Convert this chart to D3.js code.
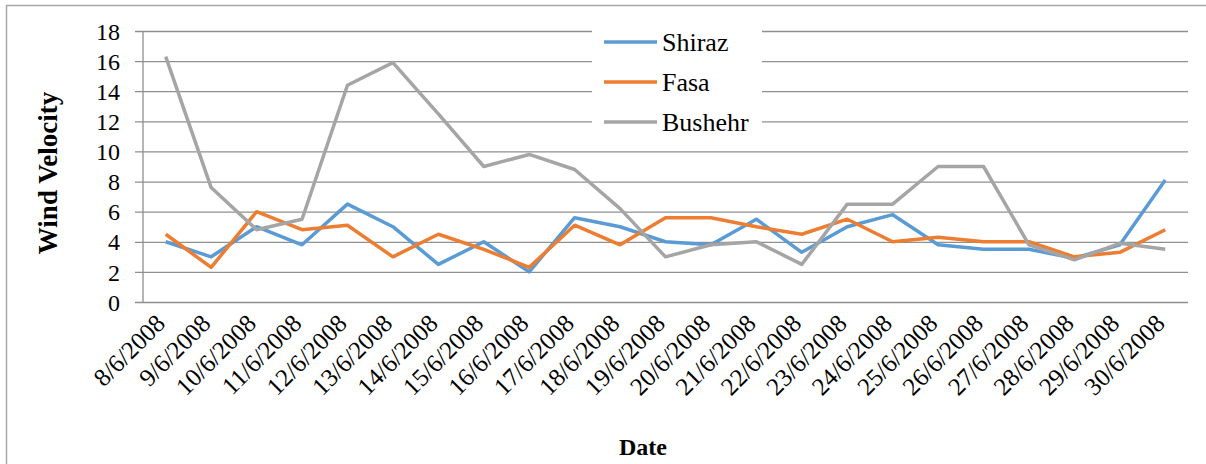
<!DOCTYPE html>
<html>
<head>
<meta charset="utf-8">
<script src="https://cdn.jsdelivr.net/npm/d3@7"></script>
<style>
  body { margin: 0; background: #fff; }
  svg { display: block; }
  svg text { font-family: 'Liberation Serif', 'Times New Roman', serif; fill: #000; }
  .grid line { stroke: #8f8f8f; stroke-width: 1.3; }
  .grid path { display: none; }
  .axis path, .axis line { display: none; }
  .line { fill: none; stroke-width: 3.5; stroke-linejoin: round; }
</style>
</head>
<body>
<script>
const dates = ['8/6/2008', '9/6/2008', '10/6/2008', '11/6/2008', '12/6/2008', '13/6/2008',
  '14/6/2008', '15/6/2008', '16/6/2008', '17/6/2008', '18/6/2008', '19/6/2008', '20/6/2008',
  '21/6/2008', '22/6/2008', '23/6/2008', '24/6/2008', '25/6/2008', '26/6/2008', '27/6/2008',
  '28/6/2008', '29/6/2008', '30/6/2008']
const shiraz = [4.0, 3.0, 5.0, 3.8, 6.5, 5.0, 2.5, 4.0, 2.0, 5.6, 5.0, 4.0, 3.8, 5.5, 3.3, 5.0, 5.8, 3.8, 3.5, 3.5, 2.9, 3.8, 8.1]
const fasa = [4.5, 2.3, 6.0, 4.8, 5.1, 3.0, 4.5, 3.5, 2.3, 5.1, 3.8, 5.6, 5.6, 5.0, 4.5, 5.5, 4.0, 4.3, 4.0, 4.0, 3.0, 3.3, 4.8]
const bushehr = [16.3, 7.6, 4.8, 5.5, 14.4, 15.9, 12.5, 9.0, 9.8, 8.8, 6.2, 3.0, 3.8, 4.0, 2.5, 6.5, 6.5, 9.0, 9.0, 3.8, 2.8, 3.9, 3.5]
const seriesNames = ['Shiraz', 'Fasa', 'Bushehr']
const seriesColors = ['#5b9bd5', '#ed7d31', '#a5a5a5']
const yTicks = [0, 2, 4, 6, 8, 10, 12, 14, 16, 18]

function drawChart() {
  const svgWidth = 1206, svgHeight = 464
  const plot = {left: 143, right: 1188, top: 31, bottom: 302}

  const svg = d3.select('body').append('svg')
    .attr('width', svgWidth)
    .attr('height', svgHeight)

  // chart frame (only top and left edges are visible)
  svg.append('rect')
    .attr('x', 6.5).attr('y', 5.5)
    .attr('width', 1300).attr('height', 600)
    .attr('fill', '#fff')
    .attr('stroke', '#a6a6a6')
    .attr('stroke-width', 1.5)

  const x = d3.scaleBand().domain(dates).range([plot.left, plot.right])
  const y = d3.scaleLinear().domain([0, 18]).range([plot.bottom, plot.top])
  const cx = d => x(d) + x.bandwidth() / 2

  // gridlines
  svg.append('g')
    .attr('class', 'grid')
    .attr('transform', 'translate(' + (plot.left - 8) + ',0)')
    .call(d3.axisLeft(y).tickValues(yTicks)
      .tickSize(-(plot.right - plot.left + 8))
      .tickFormat(''))

  // vertical axis line
  svg.append('line')
    .attr('x1', plot.left).attr('x2', plot.left)
    .attr('y1', y(18)).attr('y2', y(0))
    .attr('stroke', '#8f8f8f').attr('stroke-width', 1.3)

  // y tick labels
  const yAxis = svg.append('g')
    .attr('class', 'axis')
    .attr('transform', 'translate(' + plot.left + ',0)')
    .call(d3.axisLeft(y).tickValues(yTicks).tickSize(0).tickPadding(23))
  yAxis.selectAll('text')
    .style('font-size', '24px')
    .attr('dy', '0.34em')

  // x tick labels
  const xAxis = svg.append('g')
    .attr('class', 'axis')
    .attr('transform', 'translate(0,' + plot.bottom + ')')
    .call(d3.axisBottom(x).tickSize(0).tickPadding(0))
  xAxis.selectAll('text')
    .style('font-size', '25px')
    .attr('text-anchor', 'end')
    .attr('dy', 0)
    .attr('y', 0)
    .attr('transform', 'translate(1,23) rotate(-45)')

  // series lines
  const values = [shiraz, fasa, bushehr]
  const line = d3.line()
    .x((d, i) => cx(dates[i]))
    .y(d => y(d))

  values.forEach(function(v, k) {
    svg.append('path')
      .datum(v)
      .attr('class', 'line')
      .attr('stroke', seriesColors[k])
      .attr('d', line)
  })

  // legend
  const legend = svg.append('g')
  legend.append('rect')
    .attr('x', 592).attr('y', 24)
    .attr('width', 170).attr('height', 118)
    .attr('fill', '#fff')
  seriesNames.forEach(function(name, k) {
    const ly = 42 + k * 40
    legend.append('line')
      .attr('x1', 604).attr('x2', 657)
      .attr('y1', ly).attr('y2', ly)
      .attr('stroke', seriesColors[k])
      .attr('stroke-width', 3.5)
    legend.append('text')
      .attr('x', 662).attr('y', ly + 9)
      .style('font-size', '26px')
      .text(name)
  })

  // axis titles
  svg.append('text')
    .attr('transform', 'translate(57,173) rotate(-90)')
    .attr('text-anchor', 'middle')
    .style('font-weight', 'bold')
    .style('font-size', '27px')
    .text('Wind Velocity')

  svg.append('text')
    .attr('x', 643).attr('y', 455)
    .attr('text-anchor', 'middle')
    .style('font-weight', 'bold')
    .style('font-size', '24px')
    .text('Date')
}

drawChart()
</script>
</body>
</html>
